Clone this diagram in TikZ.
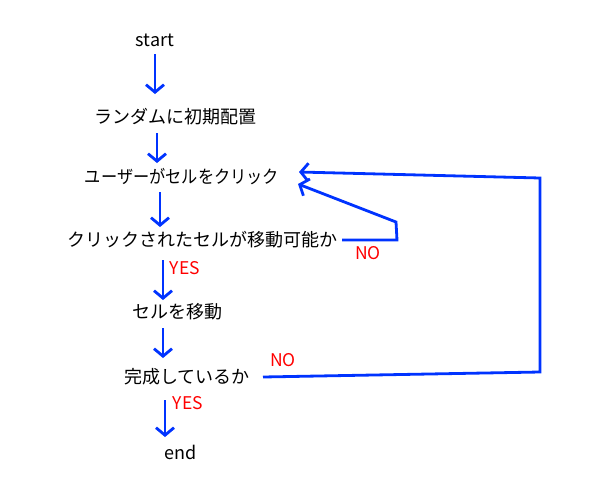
\documentclass[tikz,border=0pt]{standalone}
\usepackage{fontspec}
\setmainfont{Noto Sans CJK JP}
\usetikzlibrary{arrows.meta}
\definecolor{flowblue}{RGB}{0,51,255}
\tikzset{
  txt/.style={inner sep=0pt, font=\fontsize{18}{20}\selectfont, text=black},
  lbl/.style={inner sep=0pt, font=\fontsize{17.5}{19}\selectfont, text=red},
  arr/.style={draw=flowblue, line width=2.8pt, -{Straight Barb[length=7.5pt,width=18pt,line width=2.8pt]}}
}
\begin{document}
\begin{tikzpicture}[x=1pt,y=-1pt]
\useasboundingbox (0,0) rectangle (592,488);
\node[txt] (start) at (155,40) {start};
\node[txt] (rand) at (175,117) {ランダムに初期配置};
\node[txt, xscale=0.9] (click) at (182,177) {ユーザーがセルをクリック};
\node[txt] (check) at (202,240) {クリックされたセルが移動可能か};
\node[txt] (move) at (177,312) {セルを移動};
\node[txt] (done) at (187,377) {完成しているか};
\node[txt] (end) at (181,452) {end};
\node[lbl] (yes1) at (185,268) {YES};
\node[lbl] (no1) at (368,253) {NO};
\node[lbl] (yes2) at (188,403) {YES};
\node[lbl] (no2) at (283,360) {NO};
% arrow endpoints
\coordinate (a1s) at (155,54);
\coordinate (a1e) at (155,94);
\coordinate (a2s) at (157,133);
\coordinate (a2e) at (157,163);
\coordinate (a3s) at (160,192);
\coordinate (a3e) at (160,227);
\coordinate (a4s) at (163,260);
\coordinate (a4e) at (163,300);
\coordinate (a5s) at (163,328);
\coordinate (a5e) at (163,358);
\coordinate (a6s) at (165,400);
\coordinate (a6e) at (165,437);
\draw[arr] (a1s) -- (a1e);
\draw[arr] (a2s) -- (a2e);
\draw[arr] (a3s) -- (a3e);
\draw[arr] (a4s) -- (a4e);
\draw[arr] (a5s) -- (a5e);
\draw[arr] (a6s) -- (a6e);
% NO loop 1
\coordinate (n1s) at (342,240);
\coordinate (n1a) at (397,240);
\coordinate (n1b) at (396,222);
\coordinate (n1e) at (298,184);
\draw[arr, line join=miter] (n1s) -- (n1a) -- (n1b) -- (n1e);
% NO loop 2
\coordinate (n2s) at (263,377);
\coordinate (n2a) at (540,372);
\coordinate (n2b) at (540,178);
\coordinate (n2e) at (299,172);
\draw[arr, line join=miter] (n2s) -- (n2a) -- (n2b) -- (n2e);
\end{tikzpicture}
\end{document}
